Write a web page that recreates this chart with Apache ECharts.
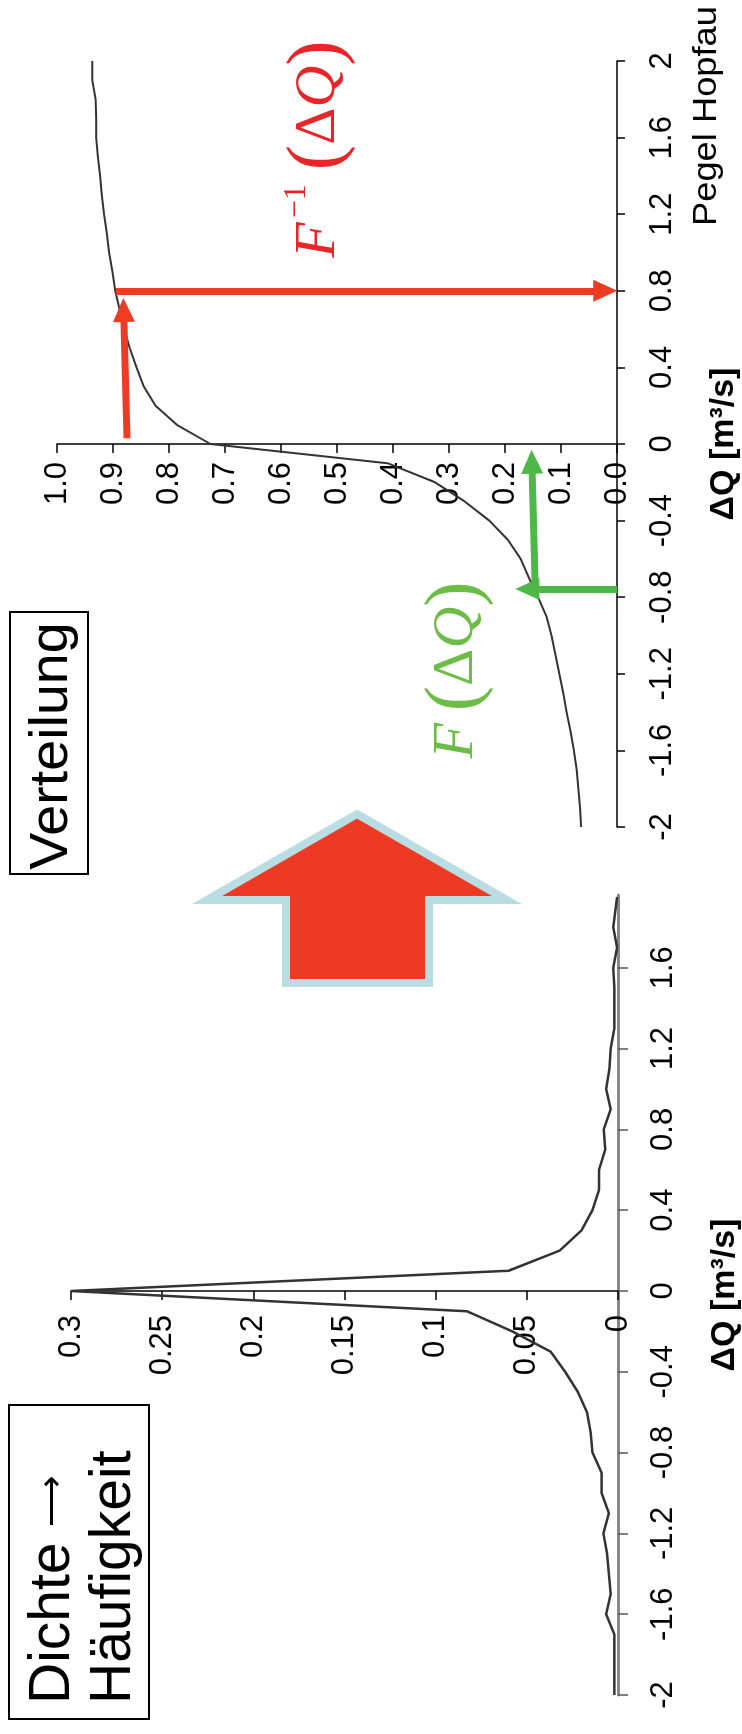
<!DOCTYPE html>
<html>
<head>
<meta charset="utf-8">
<script src="https://cdn.jsdelivr.net/npm/echarts@6/dist/echarts.min.js"></script>
<style>
	html, body { margin: 0; padding: 0; background: #fff; }
	#main { width: 742px; height: 1734px; }
</style>
</head>
<body>
<div id="main"></div>
<script>
// Verteilungsfunktion F(dQ), oben
const cdfDeltaQ = [-2.0, -1.9, -1.8, -1.7, -1.6, -1.5, -1.4, -1.3, -1.2, -1.1, -1.0,
	-0.9, -0.8, -0.7, -0.6, -0.5, -0.4, -0.3, -0.2, -0.1, 0.0,
	0.1, 0.2, 0.3, 0.4, 0.5, 0.6, 0.7, 0.8, 0.9, 1.0,
	1.1, 1.2, 1.3, 1.4, 1.5, 1.6, 1.7, 1.8, 1.9, 2.0];
const cdfValues = [0.064, 0.066, 0.069, 0.072, 0.077, 0.083, 0.090, 0.096, 0.103, 0.110, 0.117,
	0.126, 0.141, 0.157, 0.172, 0.195, 0.228, 0.272, 0.325, 0.410, 0.726,
	0.786, 0.824, 0.845, 0.858, 0.870, 0.880, 0.888, 0.896, 0.901, 0.907,
	0.911, 0.916, 0.920, 0.923, 0.927, 0.930, 0.930, 0.931, 0.937, 0.937];

// Dichte / Haeufigkeit, unten
const densDeltaQ = [-2.0, -1.9, -1.8, -1.7, -1.6, -1.5, -1.4, -1.3, -1.2, -1.1, -1.0,
	-0.9, -0.8, -0.7, -0.6, -0.5, -0.4, -0.3, -0.2, -0.1, 0.0,
	0.1, 0.2, 0.3, 0.4, 0.5, 0.6, 0.7, 0.8, 0.9, 1.0,
	1.1, 1.2, 1.3, 1.4, 1.5, 1.6, 1.7, 1.8, 1.95];
const densValues = [0.002, 0.002, 0.002, 0.002, 0.0065, 0.004, 0.005, 0.006, 0.008, 0.005, 0.009,
	0.009, 0.014, 0.015, 0.017, 0.022, 0.029, 0.037, 0.058, 0.083, 0.300,
	0.060, 0.032, 0.020, 0.014, 0.0104, 0.0104, 0.007, 0.0078, 0.004, 0.0065,
	0.0047, 0.004, 0.002, 0.002, 0.002, 0.0026, 0.0005, 0.0026, 0.0005];

// Pfeile im oberen Diagramm: [F, dQ] Anfang -> Ende
const redArrowUp = [[0.875, 0.03], [0.881, 0.70]];
const redArrowRight = [[0.895, 0.80], [0.021, 0.80]];
const greenArrowLeft = [[0.0, -0.757], [0.160, -0.757]];
const greenArrowUp = [[0.146, -0.757], [0.152, -0.093]];

const sans = "'Liberation Sans', Arial, sans-serif";
const serif = "'Liberation Serif', 'Times New Roman', serif";
const red = '#ee3b24';
const green = '#4db848';

function pairs(xs, ys) {
	return xs.map((x, i) => [ys[i], x]);
}

function arrow(path, color) {
	return [{
		coord: path[0],
		symbol: 'none',
		lineStyle: { color: color, width: 7, type: 'solid' }
	}, {
		coord: path[1],
		symbol: 'triangle',
		symbolSize: [22, 24],
		itemStyle: { color: color }
	}];
}

const tickLabel = {
	rotate: 90,
	color: '#000',
	fontSize: 31,
	fontFamily: sans
};

const axisTitle = {
	name: 'ΔQ [m³/s]',
	nameLocation: 'middle',
	nameRotate: 90,
	nameGap: 90,
	nameTextStyle: { color: '#000', fontSize: 34, fontWeight: 'bold', fontFamily: sans }
};

let myChart = echarts.init(document.getElementById('main'));

let option = {
	backgroundColor: '#fff',
	animation: false,
	grid: [
		{ left: 57, right: 125, top: 61, height: 766, outerBoundsMode: 'none', containLabel: false },
		{ left: 71, right: 124, top: 895, height: 800, outerBoundsMode: 'none', containLabel: false }
	],
	xAxis: [{
		gridIndex: 0,
		type: 'value',
		min: 0,
		max: 1,
		interval: 0.1,
		inverse: true,
		position: 'bottom',
		// Achse liegt bei dQ = 0 (Mitte von -2..2)
		offset: -383,
		axisLine: { onZero: false, lineStyle: { color: '#000', width: 1.5 } },
		axisTick: { length: 9, lineStyle: { color: '#000', width: 1.5 } },
		axisLabel: Object.assign({}, tickLabel, {
			margin: 18,
			formatter: v => v.toFixed(1)
		}),
		splitLine: { show: false }
	}, {
		gridIndex: 1,
		type: 'value',
		min: 0,
		max: 0.3,
		interval: 0.05,
		inverse: true,
		position: 'bottom',
		offset: -404,
		axisLine: { onZero: false, lineStyle: { color: '#000', width: 1.5 } },
		axisTick: { length: 9, lineStyle: { color: '#000', width: 1.5 } },
		axisLabel: Object.assign({}, tickLabel, { margin: 24 }),
		splitLine: { show: false }
	}],
	yAxis: [Object.assign({
		gridIndex: 0,
		type: 'value',
		min: -2,
		max: 2,
		interval: 0.4,
		position: 'right',
		axisLine: { show: true, onZero: false, lineStyle: { color: '#000', width: 1.5 } },
		axisTick: { show: true, length: 8, lineStyle: { color: '#000', width: 1.5 } },
		axisLabel: Object.assign({}, tickLabel, { margin: 30 }),
		splitLine: { show: false }
	}, axisTitle), Object.assign({
		gridIndex: 1,
		type: 'value',
		min: -2,
		max: 1.96,
		interval: 0.4,
		position: 'right',
		axisLine: { show: true, onZero: false, lineStyle: { color: '#888', width: 3 } },
		axisTick: { show: true, length: 10, lineStyle: { color: '#555', width: 1.5 } },
		axisLabel: Object.assign({}, tickLabel, { margin: 30, showMaxLabel: false }),
		splitLine: { show: false }
	}, axisTitle)],
	series: [{
		name: 'F',
		type: 'line',
		xAxisIndex: 0,
		yAxisIndex: 0,
		data: pairs(cdfDeltaQ, cdfValues),
		showSymbol: false,
		lineStyle: { color: '#333', width: 2 },
		markLine: {
			silent: true,
			animation: false,
			label: { show: false },
			data: [
				arrow(redArrowUp, red),
				arrow(redArrowRight, red),
				arrow(greenArrowLeft, green),
				arrow(greenArrowUp, green)
			]
		}
	}, {
		name: 'Dichte',
		type: 'line',
		xAxisIndex: 1,
		yAxisIndex: 1,
		data: pairs(densDeltaQ, densValues),
		showSymbol: false,
		lineStyle: { color: '#333', width: 2.5 }
	}],
	graphic: [{
		// grosser Pfeil Dichte -> Verteilung
		type: 'polygon',
		shape: {
			points: [[357, 814], [507, 900], [429, 900], [429, 983], [286, 983], [286, 900], [207, 900]]
		},
		style: { fill: '#ee3a23', stroke: '#b9dde2', lineWidth: 8, lineJoin: 'miter' }
	}, {
		type: 'rect',
		shape: { x: 10, y: 612, width: 78, height: 262 },
		style: { fill: '#fff', stroke: '#000', lineWidth: 2 }
	}, {
		type: 'text',
		x: 52, y: 746,
		rotation: Math.PI / 2,
		scaleX: 1.05,
		style: { text: 'Verteilung', font: '53px ' + sans, fill: '#000', align: 'center', verticalAlign: 'middle' }
	}, {
		type: 'rect',
		shape: { x: 9, y: 1405, width: 140, height: 314 },
		style: { fill: '#fff', stroke: '#000', lineWidth: 2 }
	}, {
		// zwei Zeilen, linksbuendig (unten beginnend)
		type: 'text',
		x: 53, y: 1704,
		rotation: Math.PI / 2,
		style: {
			text: '{a|Dichte }{b|\u27F6}',
			fill: '#000',
			align: 'left',
			verticalAlign: 'middle',
			rich: {
				a: { fontFamily: sans, fontSize: 57 },
				b: { fontFamily: sans, fontSize: 36 }
			}
		}
	}, {
		type: 'text',
		x: 114, y: 1704,
		rotation: Math.PI / 2,
		style: { text: 'Häufigkeit', font: '57px ' + sans, fill: '#000', align: 'left', verticalAlign: 'middle' }
	}, {
		type: 'text',
		x: 707, y: 116,
		rotation: Math.PI / 2,
		scaleX: 1.1,
		style: { text: 'Pegel Hopfau', font: '33px ' + sans, fill: '#000', align: 'center', verticalAlign: 'middle' }
	}, {
		type: 'text',
		x: 319, y: 149,
		rotation: Math.PI / 2,
		style: {
			text: '{f|F}{s|−1}{p|(}{d|Δ}{q|Q}{p|)}',
			fill: '#e8262a',
			align: 'center',
			verticalAlign: 'middle',
			rich: {
				f: { fontFamily: serif, fontStyle: 'italic', fontSize: 58, padding: [0, 4, 0, 0] },
				s: { fontFamily: serif, fontSize: 32, verticalAlign: 'top', padding: [0, 14, 0, 0] },
				p: { fontFamily: serif, fontSize: 76 },
				d: { fontFamily: serif, fontSize: 58 },
				q: { fontFamily: serif, fontStyle: 'italic', fontSize: 58 }
			}
		}
	}, {
		type: 'text',
		x: 457, y: 670,
		rotation: Math.PI / 2,
		style: {
			text: '{f|F}{p|(}{d|Δ}{q|Q}{p|)}',
			fill: '#6cbd45',
			align: 'center',
			verticalAlign: 'middle',
			rich: {
				f: { fontFamily: serif, fontStyle: 'italic', fontSize: 58, padding: [0, 12, 0, 0] },
				p: { fontFamily: serif, fontSize: 76 },
				d: { fontFamily: serif, fontSize: 58 },
				q: { fontFamily: serif, fontStyle: 'italic', fontSize: 58 }
			}
		}
	}]
};

myChart.setOption(option);
</script>
</body>
</html>
